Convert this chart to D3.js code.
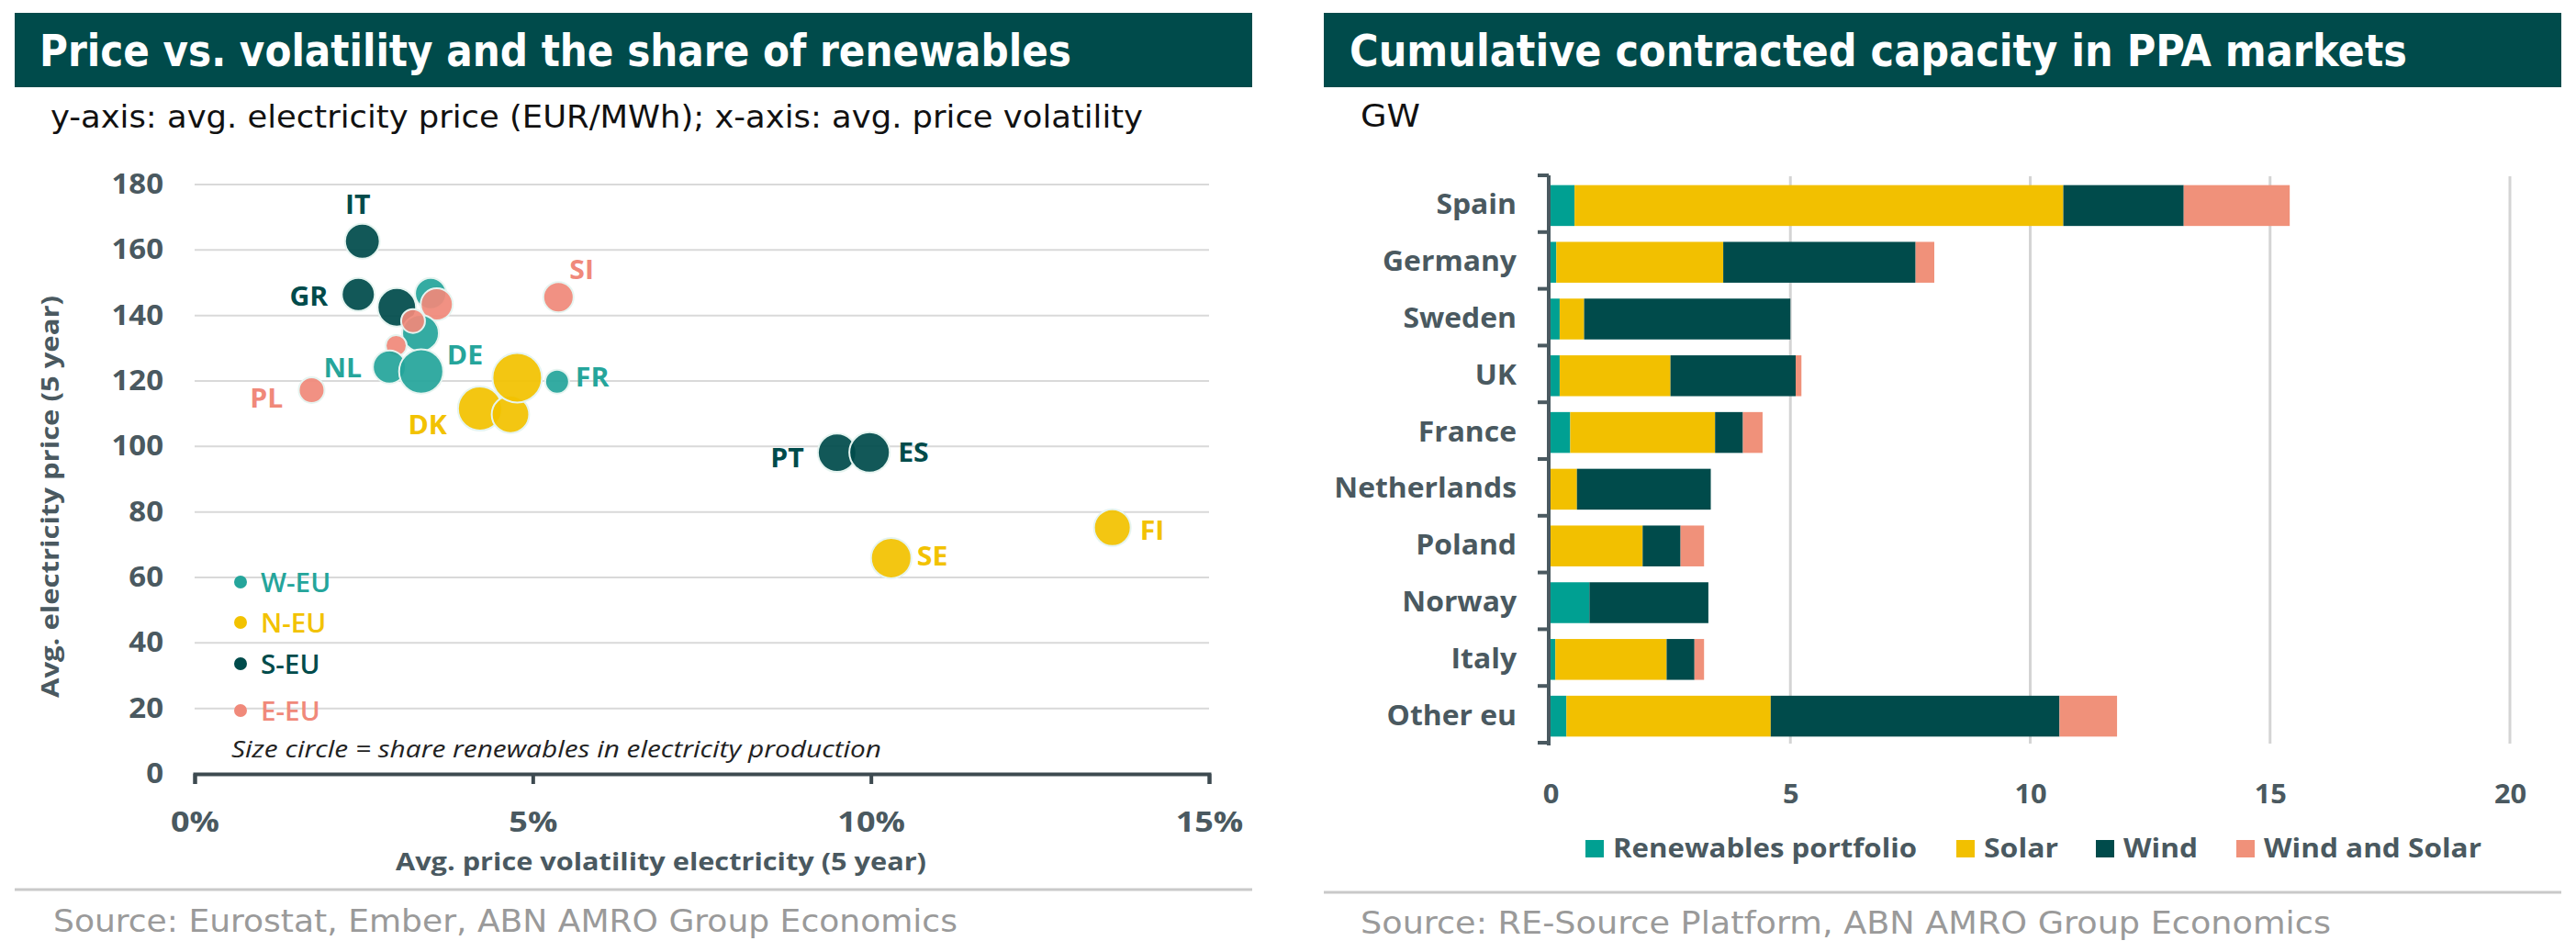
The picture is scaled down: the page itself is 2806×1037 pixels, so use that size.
<!DOCTYPE html>
<html><head><meta charset="utf-8">
<script src="https://cdn.jsdelivr.net/npm/d3@7"></script>
<style>body{margin:0;background:#fff} svg{display:block}</style>
</head><body>
<svg id="c" width="2806" height="1037"></svg>
<script>
// ---------------- DATA ----------------
// Left chart: price vs volatility (bubble size = share of renewables)
const scatterLabels = ["", "", "", "", "", "", "NL", "DE", "FR", "PL", "SI", "IT", "GR", "DK", "", "", "PT", "ES", "SE", "FI"];
const scatterRegion = ["W-EU","S-EU","E-EU","W-EU","E-EU","E-EU","W-EU","W-EU","W-EU","E-EU","E-EU","S-EU","S-EU","N-EU","N-EU","N-EU","S-EU","S-EU","N-EU","N-EU"];
const volatility   = [3.49, 2.99, 3.58, 3.34, 3.23, 2.98, 2.88, 3.35, 5.36, 1.73, 5.38, 2.48, 2.42, 4.22, 4.67, 4.77, 9.50, 9.98, 10.30, 13.57]; // %
const avgPrice     = [146.7, 142.5, 143.4, 134.6, 138.3, 130.8, 124.3, 122.9, 119.8, 117.2, 145.6, 162.7, 146.4, 111.6, 109.8, 121.0, 98.1, 98.2, 65.9, 75.2]; // EUR/MWh
const renewShare   = [25, 38, 26.5, 34.6, 14.6, 11.4, 28, 50, 14.6, 17, 23.5, 31, 28, 50, 36, 63, 38, 42, 42, 34.6]; // %
const regionNames  = ["W-EU", "N-EU", "S-EU", "E-EU"];
const priceTicks   = [0, 20, 40, 60, 80, 100, 120, 140, 160, 180];
const volTicks     = [0, 5, 10, 15];

// Right chart: cumulative contracted capacity in PPA markets (GW)
const ppaCountries = ["Spain","Germany","Sweden","UK","France","Netherlands","Poland","Norway","Italy","Other eu"];
const ppaSeries    = ["Renewables portfolio","Solar","Wind","Wind and Solar"];
const renewablesPortfolio = [0.50, 0.12, 0.19, 0.19, 0.41, 0.00, 0.00, 0.81, 0.10, 0.33];
const solar               = [10.19, 3.48, 0.51, 2.31, 3.02, 0.55, 1.92, 0.00, 2.32, 4.26];
const wind                = [2.51, 4.01, 4.30, 2.61, 0.58, 2.79, 0.79, 2.48, 0.58, 6.02];
const windAndSolar        = [2.21, 0.39, 0.00, 0.12, 0.41, 0.00, 0.49, 0.00, 0.20, 1.20];
const gwTicks = [0, 5, 10, 15, 20];

// ---------------- STYLE ----------------
const C = {
  bar: "#004b4b", slate: "#4a5960", grid: "#d9d9d9", sep: "#c9c9c9", src: "#9a9a9a",
  teal: "#00a092", yellow: "#f2c000", dark: "#004b4b", salmon: "#f0917a"
};
const regionColor = {"W-EU": "#25a59b", "N-EU": "#f2c200", "S-EU": "#004b4b", "E-EU": "#f0897a"};
const seriesColor = [C.teal, C.yellow, C.dark, C.salmon];
const narrow = "'Liberation Sans Narrow','DejaVu Sans Condensed','Roboto',sans-serif";
const sans = "'Open Sans','Lato',sans-serif";

const svg = d3.select("#c");

function fitText(sel, len) {
  sel.attr("textLength", len).attr("lengthAdjust", "spacingAndGlyphs");
}
function widen(sel, f) {
  sel.each(function () {
    const w = this.getComputedTextLength();
    d3.select(this).attr("textLength", w * f).attr("lengthAdjust", "spacingAndGlyphs");
  });
}

// ---------------- PANEL FRAMES ----------------
const panels = [
  {x0: 16, x1: 1364, title: "Price vs. volatility and the share of renewables", tx: 43, tlen: 1124,
   sub: "y-axis: avg. electricity price (EUR/MWh); x-axis: avg. price volatility", sx: 55, slen: 1190, sy: 139,
   sepY: 969, source: "Source: Eurostat, Ember, ABN AMRO Group Economics", srcX: 58, srcLen: 985, srcY: 1015},
  {x0: 1442, x1: 2790, title: "Cumulative contracted capacity in PPA markets", tx: 1470, tlen: 1152,
   sub: "GW", sx: 1482, slen: 65, sy: 138,
   sepY: 972, source: "Source: RE-Source Platform, ABN AMRO Group Economics", srcX: 1482, srcLen: 1057, srcY: 1017}
];
panels.forEach(p => {
  svg.append("rect").attr("x", p.x0).attr("y", 14).attr("width", p.x1 - p.x0).attr("height", 81).attr("fill", C.bar);
  svg.append("text").attr("x", p.tx).attr("y", 72).text(p.title)
    .attr("fill", "#fff").attr("font-family", narrow).attr("font-weight", 700).attr("font-size", 48)
    .call(fitText, p.tlen);
  svg.append("text").attr("x", p.sx).attr("y", p.sy).text(p.sub)
    .attr("fill", "#111").attr("font-family", narrow).attr("font-size", 34)
    .call(fitText, p.slen);
  svg.append("line").attr("x1", p.x0).attr("x2", p.x1).attr("y1", p.sepY).attr("y2", p.sepY)
    .attr("stroke", C.sep).attr("stroke-width", 3);
  svg.append("text").attr("x", p.srcX).attr("y", p.srcY).text(p.source)
    .attr("fill", C.src).attr("font-family", narrow).attr("font-size", 34)
    .call(fitText, p.srcLen);
});

// ---------------- LEFT: SCATTER ----------------
const x = d3.scaleLinear().domain([0, 15]).range([212, 1317]);
const y = d3.scaleLinear().domain([0, 180]).range([843, 201]);
const r = d3.scaleSqrt().domain([0, 100]).range([0, 34]);

const gL = svg.append("g");
// gridlines
gL.append("g").selectAll("line").data(priceTicks.filter(d => d > 0)).join("line")
  .attr("x1", x(0)).attr("x2", x(15)).attr("y1", d => y(d)).attr("y2", d => y(d))
  .attr("stroke", C.grid).attr("stroke-width", 2);

// y axis
const yAx = gL.append("g").attr("transform", `translate(${x(0)},0)`)
  .call(d3.axisLeft(y).tickValues(priceTicks).tickSize(0).tickPadding(34));
yAx.select(".domain").remove();
yAx.selectAll("text").attr("font-family", sans).attr("font-weight", 700).attr("font-size", 30).attr("fill", C.slate)
  .call(widen, 1.1);

// x axis
const xAx = gL.append("g").attr("transform", `translate(0,${y(0)})`)
  .call(d3.axisBottom(x).tickValues(volTicks).tickFormat(d => d + "%").tickSize(11).tickSizeOuter(11).tickPadding(31));
xAx.select(".domain").attr("stroke", "#3d4a50").attr("stroke-width", 4);
xAx.selectAll(".tick line").attr("stroke", "#3d4a50").attr("stroke-width", 4);
xAx.selectAll("text").attr("font-family", sans).attr("font-weight", 700).attr("font-size", 30).attr("fill", C.slate)
  .call(widen, 1.2);

// axis titles
gL.append("text").attr("x", 720).attr("y", 948).attr("text-anchor", "middle")
  .text("Avg. price volatility electricity (5 year)")
  .attr("font-family", sans).attr("font-weight", 700).attr("font-size", 27).attr("fill", C.slate)
  .call(fitText, 578);
gL.append("text").attr("transform", "translate(64,541) rotate(-90)").attr("text-anchor", "middle")
  .text("Avg. electricity price (5 year)")
  .attr("font-family", sans).attr("font-weight", 700).attr("font-size", 27).attr("fill", C.slate)
  .call(fitText, 438);

// bubbles
const pts = scatterLabels.map((lab, i) => ({lab, reg: scatterRegion[i], vx: volatility[i], vy: avgPrice[i], s: renewShare[i]}));
gL.append("g").selectAll("circle").data(pts).join("circle")
  .attr("cx", d => x(d.vx)).attr("cy", d => y(d.vy)).attr("r", d => r(d.s))
  .attr("fill", d => regionColor[d.reg]).attr("fill-opacity", 0.93)
  .attr("stroke", "#e6f4f0").attr("stroke-width", 2);

// labels (offsets relative to bubble centre)
const labelPos = {
  IT: [-5, -41, "middle"], GR: [-33, 1, "end"], NL: [-30, 0, "end"], DE: [28, -19, "start"],
  FR: [20, -6, "start"], PL: [-31, 8, "end"], SI: [12, -31, "start"], DK: [-36, 17, "end"],
  PT: [-36, 5, "end"], ES: [31, -1, "start"], SE: [28, -3, "start"], FI: [30, 2, "start"]
};
gL.append("g").selectAll("text").data(pts.filter(d => d.lab)).join("text")
  .attr("x", d => x(d.vx) + labelPos[d.lab][0]).attr("y", d => y(d.vy) + labelPos[d.lab][1])
  .attr("text-anchor", d => labelPos[d.lab][2]).attr("dominant-baseline", "central")
  .text(d => d.lab)
  .attr("font-family", sans).attr("font-weight", 700).attr("font-size", 28)
  .attr("fill", d => regionColor[d.reg])
  .call(widen, 1.08);

// legend
const legY = [634, 678, 723, 774];
const lg = gL.append("g").selectAll("g").data(regionNames).join("g")
  .attr("transform", (d, i) => `translate(262,${legY[i]})`);
lg.append("circle").attr("r", 7).attr("fill", d => regionColor[d]);
lg.append("text").attr("x", 22).attr("dominant-baseline", "central").text(d => d)
  .attr("font-family", sans).attr("font-weight", 600).attr("font-size", 28).attr("fill", d => regionColor[d])
  .call(widen, 1.06);

gL.append("text").attr("x", 252).attr("y", 825)
  .text("Size circle = share renewables in electricity production")
  .attr("font-family", sans).attr("font-style", "italic").attr("font-size", 26).attr("fill", "#222")
  .call(fitText, 708);

// ---------------- RIGHT: STACKED BARS ----------------
const xb = d3.scaleLinear().domain([0, 20]).range([1689, 2734]);
const yb = d3.scaleBand().domain(ppaCountries).range([193, 811]).paddingInner(0.28).paddingOuter(0.14);
const gR = svg.append("g");

// vertical gridlines
gR.append("g").selectAll("line").data(gwTicks.filter(d => d > 0)).join("line")
  .attr("x1", d => xb(d)).attr("x2", d => xb(d)).attr("y1", 192).attr("y2", 810)
  .attr("stroke", "#d4d4d4").attr("stroke-width", 3);

// stacked bars
const rows = ppaCountries.map((c, i) => ({
  country: c,
  "Renewables portfolio": renewablesPortfolio[i],
  "Solar": solar[i],
  "Wind": wind[i],
  "Wind and Solar": windAndSolar[i]
}));
const stacked = d3.stack().keys(ppaSeries)(rows);
gR.append("g").selectAll("g").data(stacked).join("g")
  .attr("fill", (d, i) => seriesColor[i])
  .selectAll("rect").data(d => d).join("rect")
  .attr("x", d => xb(d[0])).attr("width", d => Math.max(0, xb(d[1]) - xb(d[0])))
  .attr("y", d => yb(d.data.country)).attr("height", yb.bandwidth());

// category axis
const yAxR = gR.append("g").attr("transform", `translate(${xb(0) - 2},0)`)
  .call(d3.axisLeft(yb).tickSize(0).tickPadding(35));
yAxR.select(".domain").remove();
yAxR.selectAll("text").attr("font-family", sans).attr("font-weight", 700).attr("font-size", 29.5).attr("fill", C.slate)
  .call(widen, 1.08);
// axis line and category boundary ticks
const step = yb.step();
const y0b = yb(ppaCountries[0]) - yb.paddingOuter() * step - 2;
const bounds = d3.range(ppaCountries.length + 1).map(i => y0b + i * step);
gR.append("line").attr("x1", xb(0) - 2).attr("x2", xb(0) - 2)
  .attr("y1", bounds[0]).attr("y2", bounds[bounds.length - 1] + 3)
  .attr("stroke", C.slate).attr("stroke-width", 4);
gR.append("g").selectAll("line").data(bounds).join("line")
  .attr("x1", xb(0) - 14).attr("x2", xb(0) - 2).attr("y1", d => d).attr("y2", d => d)
  .attr("stroke", C.slate).attr("stroke-width", 4);

// value axis
const xAxR = gR.append("g").attr("transform", `translate(0,814)`)
  .call(d3.axisBottom(xb).tickValues(gwTicks).tickSize(0).tickPadding(41));
xAxR.select(".domain").remove();
xAxR.selectAll("text").attr("font-family", sans).attr("font-weight", 700).attr("font-size", 28).attr("fill", C.slate)
  .call(widen, 1.1);

// legend
const legendX = [1727, 2131, 2283, 2436];
const legendLen = [331, 81, 81, 237];
ppaSeries.forEach((s, i) => {
  gR.append("rect").attr("x", legendX[i]).attr("y", 915).attr("width", 20).attr("height", 19).attr("fill", seriesColor[i]);
  gR.append("text").attr("x", legendX[i] + 30).attr("y", 934).text(s)
    .attr("font-family", sans).attr("font-weight", 700).attr("font-size", 28).attr("fill", C.slate)
    .call(fitText, legendLen[i]);
});
</script>
</body></html>
